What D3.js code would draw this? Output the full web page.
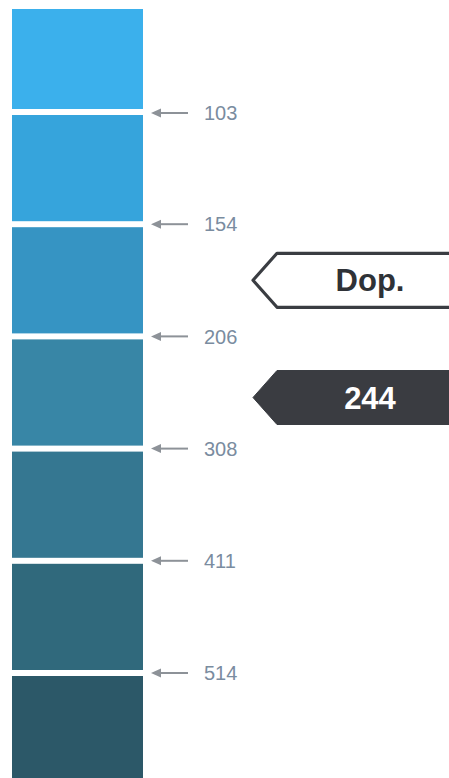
<!DOCTYPE html>
<html>
<head>
<meta charset="utf-8">
<script src="https://cdn.jsdelivr.net/npm/d3@7"></script>
<style>
  html, body { margin: 0; padding: 0; background: #ffffff; }
  svg { display: block; }
</style>
</head>
<body>
<script>
// ---- data ----
const levels = ["L1", "L2", "L3", "L4", "L5", "L6", "L7"];
const swatchColors = ["#3bb0ec", "#36a4dc", "#3694c3", "#3886a6", "#357791", "#30697c", "#2c5868"];
const boundaryLabels = ["103", "154", "206", "308", "411", "514"];
const calloutLabels = ["Dop.", "244"];
const calloutLevels = ["L3", "L4"];

const W = 449, H = 778;
const svg = d3.select("body").append("svg").attr("width", W).attr("height", H);

const step = 112.2, pad = 6 / step;
const y = d3.scaleBand()
  .domain(levels)
  .range([2.8, 2.8 + step * (levels.length - pad)])
  .paddingInner(pad)
  .paddingOuter(0);

const x0 = 12, x1 = 143;

svg.append("clipPath").attr("id", "clip")
  .append("rect").attr("x", 0).attr("y", 9).attr("width", W).attr("height", H);

svg.append("g").attr("clip-path", "url(#clip)")
  .selectAll("rect").data(levels).join("rect")
  .attr("x", x0)
  .attr("width", x1 - x0)
  .attr("y", d => y(d))
  .attr("height", y.bandwidth())
  .attr("fill", (d, i) => swatchColors[i]);

// boundaries between swatches
const gapY = i => y(levels[i + 1]) - (y.step() - y.bandwidth()) / 2;

const ticks = svg.append("g").selectAll("g").data(boundaryLabels).join("g")
  .attr("transform", (d, i) => `translate(0,${gapY(i) + (i === 0 ? 1 : 0)})`);

ticks.append("line")
  .attr("x1", 158).attr("x2", 188).attr("y1", 0).attr("y2", 0)
  .attr("stroke", "#8d9298").attr("stroke-width", 2);
ticks.append("path")
  .attr("d", "M151,0 L161,-4.5 L161,4.5 Z")
  .attr("fill", "#8d9298");
ticks.append("text")
  .attr("x", 204).attr("y", 0)
  .attr("dy", "0.36em")
  .attr("font-family", "Liberation Sans, Arial, sans-serif")
  .attr("font-size", 20)
  .attr("fill", "#7a8ca0")
  .text(d => d);

// callouts
const callouts = svg.append("g").selectAll("g").data(calloutLabels).join("g")
  .attr("transform", (d, i) => {
    const c = y(calloutLevels[i]) + y.bandwidth() / 2 + (i === 1 ? 5 : 0);
    return `translate(0,${c})`;
  });

callouts.append("path")
  .attr("d", "M253,0 L277,-27 L470,-27 L470,27 L277,27 Z")
  .attr("fill", (d, i) => i === 0 ? "#ffffff" : "#3a3c41")
  .attr("stroke", "#3a3d42")
  .attr("stroke-width", (d, i) => i === 0 ? 3.2 : 1)
  .attr("stroke-linejoin", "round");

callouts.append("text")
  .attr("x", 370).attr("y", 0)
  .attr("dy", "0.36em")
  .attr("text-anchor", "middle")
  .attr("font-family", "Liberation Sans, Arial, sans-serif")
  .attr("font-weight", "bold")
  .attr("font-size", 31)
  .attr("fill", (d, i) => i === 0 ? "#2f3237" : "#ffffff")
  .text(d => d);
</script>
</body>
</html>
